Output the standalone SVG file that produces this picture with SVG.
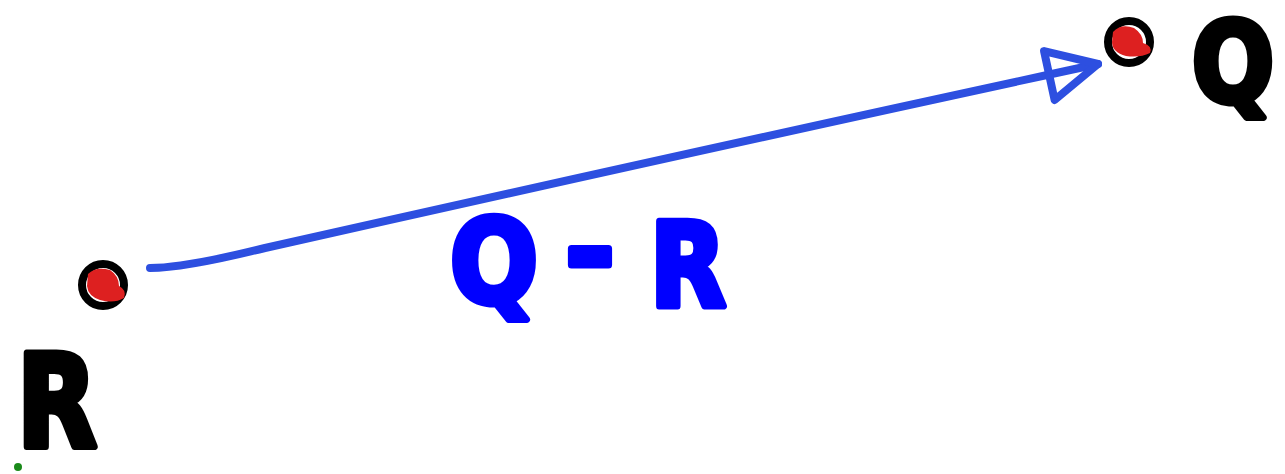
<svg xmlns="http://www.w3.org/2000/svg" width="1285" height="474" viewBox="0 0 1285 474">
<style>
.lbl{font-family:"DejaVu Sans",sans-serif;font-weight:bold;stroke-linejoin:round;stroke-width:7}
.blk{fill:#000;stroke:#000}
.blu{fill:#0000ff;stroke:#0000ff}
.pt-ring{fill:#fff;stroke:#000;stroke-width:8}
.pt-fill{fill:#dd2020}
</style>
<defs>
<marker id="arr" viewBox="0 0 70 70" refX="58" refY="30" markerWidth="70" markerHeight="70" markerUnits="userSpaceOnUse" orient="auto">
<path d="M8,6 L58,30 L8,56 Z" fill="none" stroke="#2d4fe0" stroke-width="8" stroke-linejoin="round"/>
</marker>
</defs>
<rect width="1285" height="474" fill="#fff"/>
<g id="connectors">
<path d="M150,268 Q185,268 265,248 Q700,150 1098,64" fill="none" stroke="#2d4fe0" stroke-width="8" stroke-linecap="round" marker-end="url(#arr)"/>
</g>
<g id="node-R">
<circle cx="103" cy="285" r="21" class="pt-ring"/>
<path d="M88,274 Q96,266 110,270 Q119,276 119,286 Q127,290 124,298 Q114,304 100,300 Q88,296 87,286 Z" class="pt-fill"/>
<text x="17" y="446" font-size="128" class="lbl blk" textLength="80" lengthAdjust="spacingAndGlyphs">R</text>
</g>
<g id="node-Q">
<circle cx="1129" cy="42" r="21" class="pt-ring"/>
<path d="M1113,32 Q1121,23 1134,28 Q1143,34 1143,43 Q1153,46 1150,53 Q1140,58 1126,56 Q1112,52 1112,42 Z" class="pt-fill"/>
<text x="1192" y="102" font-size="110" class="lbl blk" textLength="82" lengthAdjust="spacingAndGlyphs">Q</text>
</g>
<g id="label-QR">
<text x="450" y="302" font-size="116" class="lbl blu" textLength="88" lengthAdjust="spacingAndGlyphs">Q</text>
<text x="565" y="290" font-size="116" class="lbl blu" textLength="50" lengthAdjust="spacingAndGlyphs">-</text>
<text x="650" y="306" font-size="116" class="lbl blu" textLength="76" lengthAdjust="spacingAndGlyphs">R</text>
</g>
<circle cx="18" cy="467" r="4" fill="#1a8a1a"/>
</svg>
